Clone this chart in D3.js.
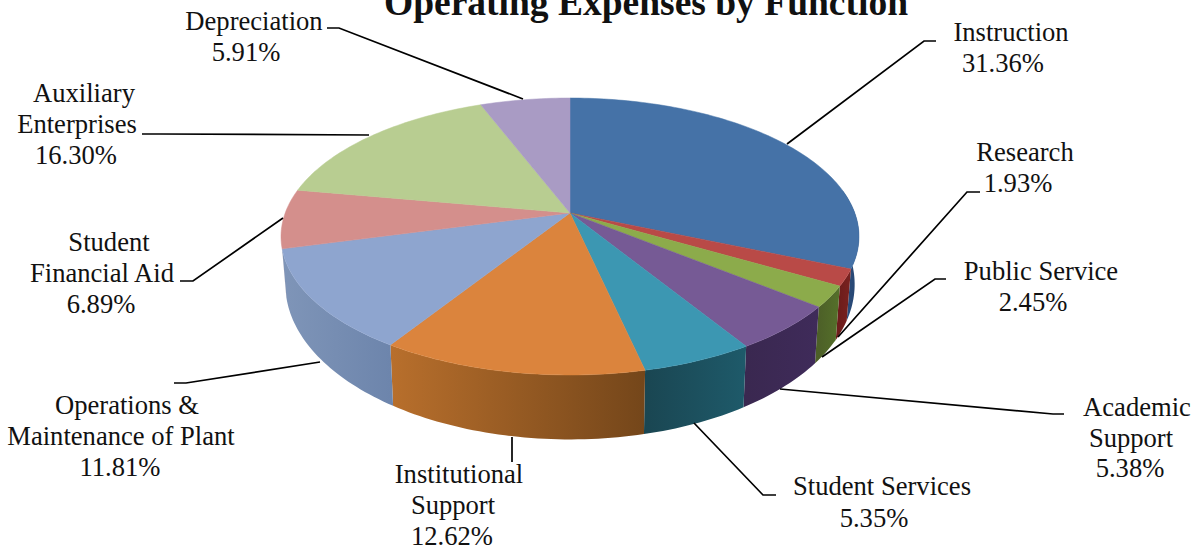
<!DOCTYPE html>
<html>
<head>
<meta charset="utf-8">
<script src="https://cdn.jsdelivr.net/npm/d3@7"></script>
<style>
  html, body { margin: 0; padding: 0; background: #fff; overflow: hidden; }
  text { font-family: "Liberation Serif", "Times New Roman", serif; fill: #111; }
</style>
</head>
<body>
<svg id="chart" width="1199" height="548"></svg>
<script>
"use strict";

const titleText = "Operating Expenses by Function";
const functions = ["Instruction", "Research", "Public Service", "Academic Support", "Student Services",
  "Institutional Support", "Operations & Maintenance of Plant", "Student Financial Aid",
  "Auxiliary Enterprises", "Depreciation"];
const shares = [31.36, 1.93, 2.45, 5.38, 5.35, 12.62, 11.81, 6.89, 16.30, 5.91];

const topColors = ["#4572a7", "#b94a47", "#8cab4b", "#765a95", "#3c97b2",
  "#db843d", "#8ea5cf", "#d48f8c", "#b8cd91", "#a99bc4"];
// rim colours, left end and right end of each slice
const sideLeft = ["#2b4e80", "#6e1d1c", "#4d6028", "#3a2850", "#1a4652",
  "#b86f2c", "#7f95b8", "#9c6563", "#7f925c", "#6f6487"];
const sideRight = ["#27456f", "#7a2220", "#55702a", "#3f2b5a", "#1e5a6a",
  "#74461a", "#6d85ac", "#a87472", "#8fa56a", "#7c7095"];

// label layout: one row of text per x and y
const labelLines = [
  ["Instruction"], ["Research"], ["Public Service"], ["Academic", "Support"], ["Student Services"],
  ["Institutional", "Support"], ["Operations &", "Maintenance of Plant"], ["Student", "Financial Aid"],
  ["Auxiliary", "Enterprises"], ["Depreciation"]
];
const labelX = [[1011, 1003], [1025, 1018], [1041, 1033], [1137, 1131, 1130], [882, 874],
  [459, 453, 452], [127, 121, 120], [109, 102, 101], [84, 77, 76], [254, 246]];
const labelY = [[41, 72], [161, 192], [280, 311], [416, 447, 477], [495, 527],
  [483, 514, 545], [414, 445, 476], [251, 282, 313], [102, 133, 164], [30, 61]];
const leaders = [
  [[787, 144], [924, 41], [936, 41]],
  [[838, 337], [967, 192], [980, 192]],
  [[822, 357], [935, 279], [946, 279]],
  [[780, 389], [1053, 414], [1064, 414]],
  [[694, 423], [763, 495], [776, 495]],
  [[512, 437], [512, 462]],
  [[320, 362], [186, 383], [174, 383]],
  [[283, 218], [193, 281], [180, 281]],
  [[369, 135], [160, 134], [142, 134]],
  [[523, 99], [339, 28], [327, 28]]
];

const svg = d3.select("#chart");
const defs = svg.append("defs");

// tilted disc: perspective projection of the unit circle
const cx = 570, cy = 213, spreadX = 284.8, spreadY = 134.5, tilt = 0.1697;
function project(angle) {
  const u = Math.sin(angle), v = Math.cos(angle), w = 1 + tilt * v;
  return [cx + spreadX * u / w, cy - spreadY * v / w];
}
function projectBase(angle) {
  const p = project(angle);
  return [cx + (p[0] - cx) * 0.985, p[1] + 45 + 0.12 * (p[1] - cy)];
}
function arcPoints(fn, a0, a1) {
  const n = Math.max(2, Math.ceil((a1 - a0) / 0.02));
  return d3.range(n + 1).map(i => fn(a0 + (a1 - a0) * i / n));
}

const pie = d3.pie().sort(null).value(d => d);
const slices = pie(shares);
const line = d3.line();

const visibleFrom = 80 * Math.PI / 180, visibleTo = 255.5 * Math.PI / 180;

// rim first, the top faces cover whatever is at the back
slices.forEach((s, i) => {
  const a0 = Math.max(s.startAngle, visibleFrom), a1 = Math.min(s.endAngle, visibleTo);
  if (a1 <= a0) return;
  const top = arcPoints(project, a0, a1), base = arcPoints(projectBase, a0, a1);
  const xs = d3.extent(top, d => d[0]);
  const grad = defs.append("linearGradient").attr("id", "side" + i)
    .attr("gradientUnits", "userSpaceOnUse")
    .attr("x1", xs[0]).attr("x2", xs[1])
    .attr("y1", 0).attr("y2", 0);
  grad.append("stop").attr("offset", 0).attr("stop-color", sideLeft[i]);
  grad.append("stop").attr("offset", 1).attr("stop-color", sideRight[i]);
  svg.append("path").attr("class", "side")
    .attr("d", line(top.concat(base.reverse())) + "Z")
    .attr("fill", "url(#side" + i + ")");
});

slices.forEach((s, i) => {
  svg.append("path").attr("class", "slice")
    .attr("d", line([[cx, cy]].concat(arcPoints(project, s.startAngle, s.endAngle))) + "Z")
    .attr("fill", topColors[i])
    .attr("stroke", topColors[i]).attr("stroke-width", 0.5);
});

leaders.forEach(pts => {
  svg.append("path").attr("d", line(pts))
    .attr("fill", "none").attr("stroke", "#000").attr("stroke-width", 1.7);
});

functions.forEach((name, i) => {
  const rows = labelLines[i].concat(shares[i].toFixed(2) + "%");
  const t = svg.append("text").attr("text-anchor", "middle").attr("font-size", 26.6);
  rows.forEach((row, j) => {
    t.append("tspan").attr("x", labelX[i][j]).attr("y", labelY[i][j]).text(row);
  });
});

svg.append("text").attr("x", 646).attr("y", 14.5).attr("text-anchor", "middle")
  .attr("font-size", 37.5).attr("font-weight", "bold").text(titleText);
</script>
</body>
</html>
